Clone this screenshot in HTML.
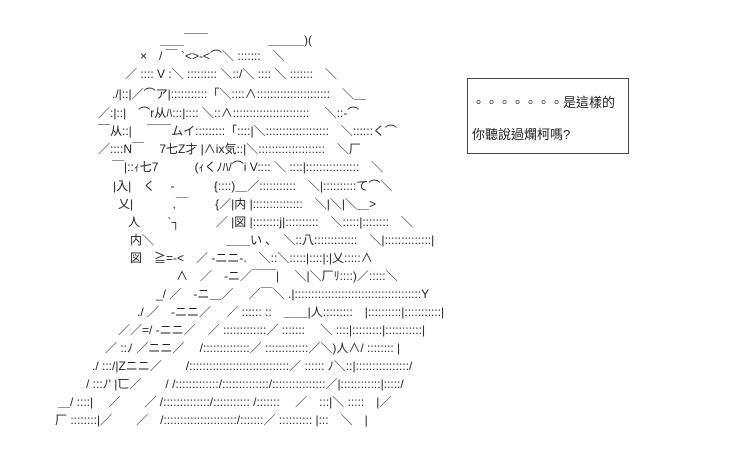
<!DOCTYPE html>
<html><head><meta charset="utf-8"><style>
body{margin:0;background:#fff;width:733px;height:460px;overflow:hidden;position:relative}
.a{position:absolute;white-space:pre;font-family:"Liberation Sans","Noto Sans CJK JP",sans-serif;font-size:12px;line-height:16px;color:#222}
.box{position:absolute;left:467px;top:78px;width:160px;height:74px;border:1px solid #444}
.t{position:absolute;font-family:"Liberation Sans","Noto Sans CJK TC",sans-serif;font-size:13px;color:#222;white-space:pre}
</style></head><body>
<div class="a" style="left:160px;top:32px">＿＿￣￣</div>
<div class="a" style="left:268px;top:32px">＿＿＿)(</div>
<div class="a" style="left:140px;top:48px">×　/ ￣ `&lt;&gt;-&lt;⌒＼ :::::::　＼</div>
<div class="a" style="left:125px;top:66px">／ :::: V :＼ ::::::::: ＼::/＼ :::: ＼ :::::::　＼</div>
<div class="a" style="left:112px;top:86px">./|::|／⌒ア|:::::::::::「＼::::∧::::::::::::::::::::::　＼＿</div>
<div class="a" style="left:98px;top:105px">／:|::|　⌒r从ﾊ:::|:::: ＼::∧:::::::::::::::::::::::　 ＼::-⌒</div>
<div class="a" style="left:98px;top:123px">￣从::|　 ￣￣ムイ:::::::::「::::|＼:::::::::::::::::::　＼::::::く⌒</div>
<div class="a" style="left:98px;top:141px">／::::N￣　 7七Z才 |∧ix気::|＼::::::::::::::::::::　＼厂</div>
<div class="a" style="left:112px;top:159px">￣|::ｨ七7　　　(ｨくﾉﾊ/⌒i V:::: ＼ ::::|::::::::::::::::　＼</div>
<div class="a" style="left:113px;top:178px">|入|　く　 -　　　 {::::)＿／:::::::::::　＼|::::::::::て⌒＼</div>
<div class="a" style="left:118px;top:196px">乂|　　　 ,￣　　 {／|内 |:::::::::::::::　＼|＼|＼＿&gt;</div>
<div class="a" style="left:128px;top:214px">人　　 `┐　　　／ |図 |::::::::j|::::::::::　＼:::::|::::::::　＼</div>
<div class="a" style="left:130px;top:232px">内＼　　　　　　＿＿い ､　＼::八:::::::::::::　＼|::::::::::::::|</div>
<div class="a" style="left:130px;top:250px">図　≧=-&lt;　／ -ニニ-.　＼::＼:::::|::::|:|乂:::::∧</div>
<div class="a" style="left:176px;top:268px">∧　／　-ニ／￣￣|　 ＼|＼厂ﾘ::::)／:::::＼</div>
<div class="a" style="left:156px;top:286px">_/ ／　-ニ＿／　 ／￣＼ .|::::::::::::::::::::::::::::::::::::::Y</div>
<div class="a" style="left:137px;top:304px">./ ／　-ニニ／　 ／ :::::: ::　＿＿|人:::::::::　|::::::::::|:::::::::::|</div>
<div class="a" style="left:118px;top:322px">／／=/ -ニニ／　／ :::::::::::::／ :::::::　 ＼ ::::|:::::::::|:::::::::::|</div>
<div class="a" style="left:105px;top:340px">／ ::ﾉ ／ニニ／　 /::::::::::::::／ :::::::::::::／＼)人∧/ :::::::: |</div>
<div class="a" style="left:92px;top:358px">./ :::/|Zニニ／　　/::::::::::::::::::::::::::::::／ :::::: ﾉ＼::|::::::::::::::::/</div>
<div class="a" style="left:86px;top:376px">/ :::ﾉ' |匸／　　/ /:::::::::::::/::::::::::::::/::::::::::::::::／|::::::::::::|:::::/</div>
<div class="a" style="left:58px;top:394px">＿/ ::::|　 ／　　／ /::::::::::::::/::::::::::: /:::::::　 ／　:::|＼ :::::　|／</div>
<div class="a" style="left:55px;top:412px">厂 ::::::::|／　　／　/::::::::::::::::::::::/:::::::／ :::::::::: |:::　＼　|</div>
<div class="box"></div>
<div class="t" style="left:472px;top:92px">。。。。。。。是這樣的</div>
<div class="t" style="left:472px;top:124px">你聽說過爛柯嗎?</div>
</body></html>
